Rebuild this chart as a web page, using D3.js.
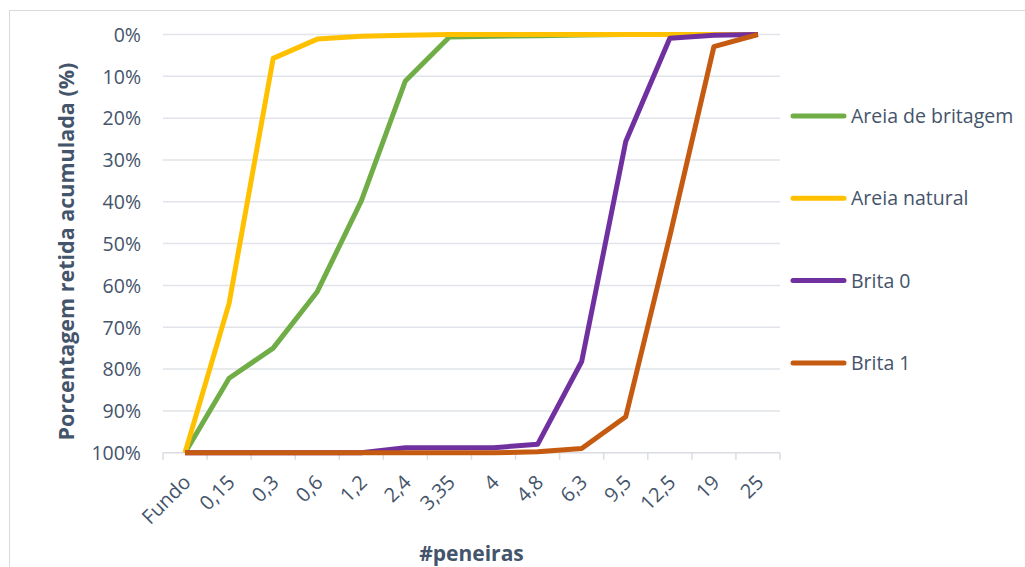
<!DOCTYPE html>
<html>
<head>
<meta charset="utf-8">
<script src="https://cdn.jsdelivr.net/npm/d3@7"></script>
<style>
  html, body { margin: 0; padding: 0; background: #fff; }
  svg { display: block; }
  text { font-family: "Open Sans", "DejaVu Sans", sans-serif; fill: #44546A; }
</style>
</head>
<body>
<svg id="chart" width="1025" height="567"></svg>
<script>
// Sieve sizes (mm) along the x axis
const sieves = ["Fundo", "0,15", "0,3", "0,6", "1,2", "2,4", "3,35", "4", "4,8", "6,3", "9,5", "12,5", "19", "25"];

// Cumulative retained percentage for each material, per sieve
const areiaBritagem = [100, 82.2, 75.0, 61.5, 39.8, 11.1, 0.6, 0.4, 0.3, 0.1, 0, 0, 0, 0];
const areiaNatural  = [100, 64.3, 5.7, 1.1, 0.4, 0.2, 0, 0, 0, 0, 0, 0, 0, 0];
const brita0        = [100, 100, 100, 100, 100, 98.8, 98.8, 98.8, 98.0, 78.2, 25.6, 0.9, 0.2, 0];
const brita1        = [100, 100, 100, 100, 100, 100, 100, 100, 99.8, 99.0, 91.4, 48.2, 2.9, 0];

const seriesNames  = ["Areia de britagem", "Areia natural", "Brita 0", "Brita 1"];
const seriesValues = [areiaBritagem, areiaNatural, brita0, brita1];
const seriesColors = ["#70AD47", "#FFC000", "#7030A0", "#C55A11"];

const yTicks = [0, 10, 20, 30, 40, 50, 60, 70, 80, 90, 100];

const svg = d3.select("#chart");
const plot = { left: 163, right: 780, top: 34.5, bottom: 452.7 };

// Chart frame
svg.append("rect")
  .attr("x", 9.5).attr("y", 10.5)
  .attr("width", 1030).attr("height", 570)
  .attr("fill", "none").attr("stroke", "#D9D9D9").attr("stroke-width", 1);

const x = d3.scaleBand().domain(sieves).range([plot.left, plot.right]).padding(0);
const y = d3.scaleLinear().domain([0, 100]).range([plot.top, plot.bottom]);

// Horizontal gridlines
svg.append("g").selectAll("line")
  .data(yTicks.filter(t => t !== 100))
  .join("line")
  .attr("x1", plot.left).attr("x2", plot.right)
  .attr("y1", d => y(d)).attr("y2", d => y(d))
  .attr("stroke", "#E1E4E9").attr("stroke-width", 1.5);

// Y axis labels
const yAxis = d3.axisLeft(y).tickValues(yTicks).tickFormat(d => d + "%").tickSize(0).tickPadding(0);
const gy = svg.append("g").attr("transform", `translate(${plot.left - 22},0)`).call(yAxis);
gy.select(".domain").remove();
gy.selectAll("text").style("font-size", "19.5px").attr("fill", "#44546A").attr("dy", "0.35em");

// X axis line with tick marks at band edges
const edges = sieves.map(s => x(s)).concat([plot.right]);
const gx = svg.append("g");
gx.append("line")
  .attr("x1", plot.left).attr("x2", plot.right)
  .attr("y1", plot.bottom).attr("y2", plot.bottom)
  .attr("stroke", "#D9DCE1").attr("stroke-width", 1.5);
gx.selectAll("line.tick")
  .data(edges)
  .join("line")
  .attr("class", "tick")
  .attr("x1", d => d).attr("x2", d => d)
  .attr("y1", plot.bottom).attr("y2", plot.bottom + 7)
  .attr("stroke", "#D9DCE1").attr("stroke-width", 1.5);

// Rotated category labels
gx.selectAll("text")
  .data(sieves)
  .join("text")
  .attr("transform", d => `translate(${x(d) + x.bandwidth() / 2 - 3},${plot.bottom + 21}) rotate(-45)`)
  .attr("text-anchor", "end")
  .attr("dy", "0.7em")
  .style("font-size", "20px")
  .text(d => d);

// Axis titles
svg.append("text")
  .attr("transform", `translate(74,${(plot.top + plot.bottom) / 2 + 8}) rotate(-90)`)
  .attr("text-anchor", "middle")
  .style("font-size", "21.5px").style("font-weight", "bold")
  .text("Porcentagem retida acumulada (%)");

svg.append("text")
  .attr("x", (plot.left + plot.right) / 2)
  .attr("y", 561)
  .attr("text-anchor", "middle")
  .style("font-size", "21px").style("font-weight", "bold")
  .text("#peneiras");

// Series lines
const line = d3.line()
  .x((d, i) => x(sieves[i]) + x.bandwidth() / 2)
  .y(d => y(d));

svg.append("g").selectAll("path")
  .data(seriesValues)
  .join("path")
  .attr("d", d => line(d))
  .attr("fill", "none")
  .attr("stroke", (d, i) => seriesColors[i])
  .attr("stroke-width", 5)
  .attr("stroke-linejoin", "round");

// Legend
const legend = svg.append("g").selectAll("g")
  .data(seriesNames)
  .join("g")
  .attr("transform", (d, i) => `translate(793,${116 + i * 82.3})`);
legend.append("line")
  .attr("x1", 0).attr("x2", 51)
  .attr("stroke", (d, i) => seriesColors[i])
  .attr("stroke-width", 5)
  .attr("stroke-linecap", "round");
legend.append("text")
  .attr("x", 58)
  .attr("dy", "0.36em")
  .style("font-size", "19.5px")
  .text(d => d);
</script>
</body>
</html>
